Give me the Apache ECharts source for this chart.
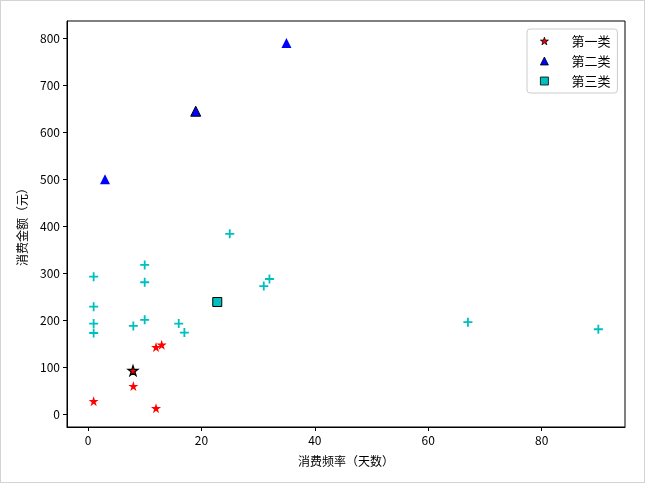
<!DOCTYPE html>
<html><head><meta charset="utf-8">
<script src="https://cdn.jsdelivr.net/npm/echarts@6/dist/echarts.min.js"></script>
<style>
html,body{margin:0;padding:0;background:#fff;}
#c{width:645px;height:483px;position:relative;}
#frame{position:absolute;left:0;top:0;width:645px;height:483px;box-sizing:border-box;border:1px solid #d3d3d3;pointer-events:none;}
</style></head>
<body>
<div style="position:relative;width:645px;height:483px;">
<div id="c"></div><div id="frame"></div>
</div>
<script>
// Data
const type1X = [1, 8, 12, 12, 13];
const type1Y = [28, 60, 13, 143, 148];
const type2X = [3, 35];
const type2Y = [500, 790];
const type3X = [1, 1, 1, 1, 8, 10, 10, 10, 16, 17, 25, 31, 32, 67, 90];
const type3Y = [293, 229, 193, 173, 188, 318, 281, 201, 193, 174, 384, 273, 288, 196, 181];
const centerX = [7.94, 19, 22.8];
const centerY = [93, 645, 239];
const classNames = ['第一类', '第二类', '第三类'];
const xTicks = [0, 20, 40, 60, 80];
const yTicks = [0, 100, 200, 300, 400, 500, 600, 700, 800];

const zip = (xs, ys) => xs.map((x, i) => [x, ys[i]]);
const STAR = 'path://M10,0L12.245,6.91L19.511,6.91L13.633,11.18L15.878,18.09L10,13.82L4.122,18.09L6.367,11.18L0.489,6.91L7.755,6.91Z';
const PLUS = 'path://M4,0H6V4H10V6H6V10H4V6H0V4H4Z';
const FONT = '"Noto Sans CJK SC", "DejaVu Sans", sans-serif';

const chart = echarts.init(document.getElementById('c'), null, {renderer: 'canvas'});
chart.setOption({
  animation: false,
  backgroundColor: '#fff',
  grid: {left: 67, right: 20, top: 21, bottom: 56, show: true, borderColor: '#000', borderWidth: 1, backgroundColor: 'transparent'},
  xAxis: {
    type: 'value', min: -3.7, max: 94.7,
    name: '消费频率（天数）', nameLocation: 'middle', nameGap: 28,
    nameTextStyle: {fontFamily: FONT, fontSize: 12, color: '#000'},
    splitLine: {show: false},
    axisLine: {onZero: false, lineStyle: {color: '#000', width: 1}},
    axisTick: {show: true, length: 4, inside: false, customValues: xTicks, lineStyle: {color: '#000'}},
    axisLabel: {customValues: xTicks, margin: 7, fontFamily: FONT, fontSize: 12, color: '#000'}
  },
  yAxis: {
    type: 'value', min: -27, max: 837,
    name: '消费金额（元）', nameLocation: 'middle', nameGap: 39, nameRotate: 90,
    nameTextStyle: {fontFamily: FONT, fontSize: 12, color: '#000'},
    splitLine: {show: false},
    axisLine: {show: true, onZero: false, lineStyle: {color: '#000', width: 1}},
    axisTick: {show: true, length: 4, inside: false, customValues: yTicks, lineStyle: {color: '#000'}},
    axisLabel: {customValues: yTicks, margin: 7, fontFamily: FONT, fontSize: 12, color: '#000'}
  },
  legend: {
    data: classNames,
    orient: 'vertical', left: 527, top: 29,
    padding: [5, 7, 5, 13],
    itemGap: 6, itemWidth: 8, itemHeight: 8,
    itemStyle: {borderWidth: 0.8},
    backgroundColor: 'rgba(255,255,255,0.8)',
    borderColor: '#cccccc', borderWidth: 1, borderRadius: 3,
    textStyle: {fontFamily: FONT, fontSize: 13, lineHeight: 14, color: '#000', padding: [0, 0, 0, 18]}
  },
  series: [
    {type: 'scatter', name: 't1', data: zip(type1X, type1Y), symbol: STAR, symbolSize: 10,
     itemStyle: {color: '#ff0000', opacity: 1}},
    {type: 'scatter', name: 't2', data: zip(type2X, type2Y), symbol: 'triangle', symbolSize: 10,
     itemStyle: {color: '#0000ff', opacity: 1}},
    {type: 'scatter', name: 't3', data: zip(type3X, type3Y), symbol: PLUS, symbolSize: 9,
     itemStyle: {color: '#00bfbf', opacity: 1}},
    {type: 'scatter', name: classNames[0], data: [[centerX[0], centerY[0]]], symbol: STAR, symbolSize: 10,
     itemStyle: {color: '#ff0000', borderColor: '#000', borderWidth: 1.2, opacity: 1}},
    {type: 'scatter', name: classNames[1], data: [[centerX[1], centerY[1]]], symbol: 'triangle', symbolSize: 10,
     itemStyle: {color: '#0000ff', borderColor: '#000', borderWidth: 1, opacity: 1}},
    {type: 'scatter', name: classNames[2], data: [[centerX[2], centerY[2]]], symbol: 'rect', symbolSize: 9,
     itemStyle: {color: '#00bfbf', borderColor: '#000', borderWidth: 1, opacity: 1}}
  ]
});
</script>
</body></html>
